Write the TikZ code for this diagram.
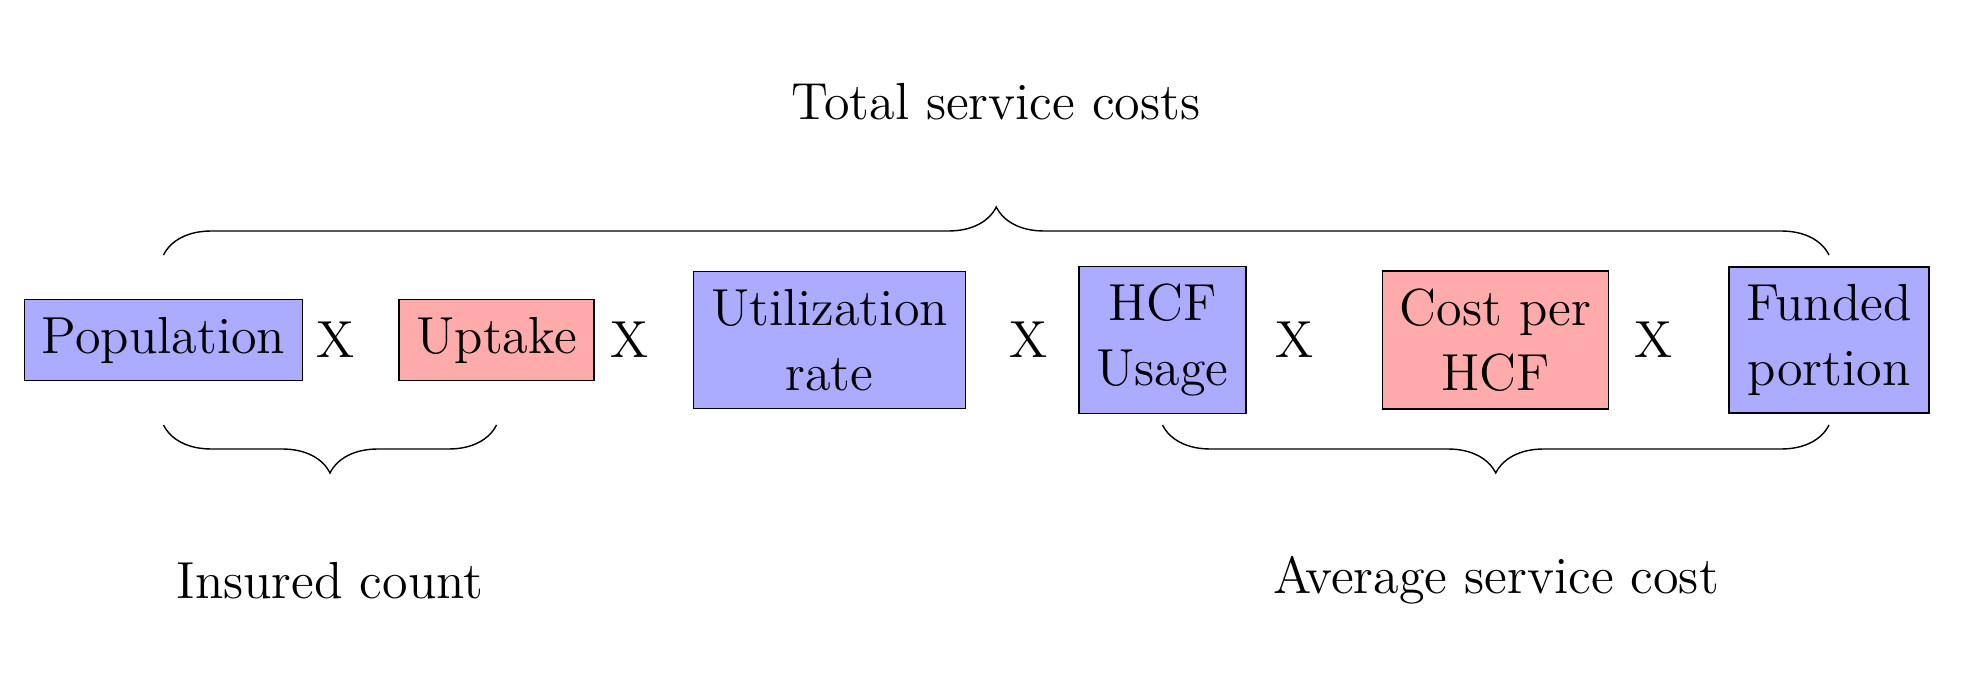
\documentclass[tikz,border=0pt]{standalone}
\usetikzlibrary{decorations.pathreplacing}

\begin{document}
\begin{tikzpicture}[every node/.style={font=\Large,inner sep=4.8pt,scale=1.03}]
\tikzstyle{bluebox}=[draw,fill=blue!33,align=center]
\tikzstyle{redbox}=[draw,fill=red!33,align=center]
\tikzstyle{brc}=[decorate,decoration={brace,amplitude=.48cm}]

\useasboundingbox (0,0) rectangle (19.68,6.72);

% factors
\node[bluebox] (pop) at (1.635,3.32) {Population};
\node (x1) at (3.36,3.32) {X};
\node[redbox] (upt) at (4.965,3.32) {Uptake};
\node (x2) at (6.30,3.32) {X};
\node[bluebox] (util) at (8.295,3.32) {Utilization\\rate};
\node (x3) at (10.29,3.32) {X};
\node[bluebox] (hcf) at (11.625,3.32) {HCF\\Usage};
\node (x4) at (12.95,3.32) {X};
\node[redbox] (cost) at (14.955,3.32) {Cost per\\HCF};
\node (x5) at (16.54,3.32) {X};
\node[bluebox] (fund) at (18.29,3.32) {Funded\\portion};

% braces
\coordinate (topline) at (0,4.17);
\coordinate (botline) at (0,2.47);
\draw[brc] (pop |- topline) -- (fund |- topline);
\draw[brc] (upt |- botline) -- (pop |- botline);
\draw[brc] (fund |- botline) -- (hcf |- botline);

\node[anchor=base] (total) at (9.96,5.53) {Total service costs};
\node[anchor=base] (insured) at (3.30,.74) {Insured count};
\node[anchor=base] (avg) at (14.96,.79) {Average service cost};
\end{tikzpicture}
\end{document}
